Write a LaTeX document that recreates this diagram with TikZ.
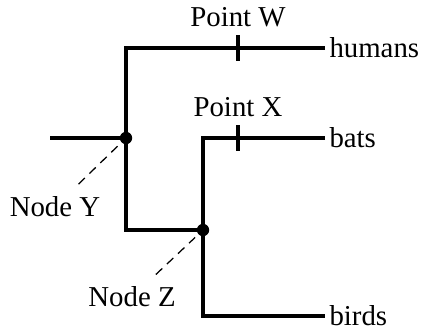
\documentclass[tikz,border=0pt]{standalone}
\usepackage{fontspec}
\setmainfont{Liberation Serif}
\usetikzlibrary{positioning}
\begin{document}
\begin{tikzpicture}[x=0.25mm,y=-0.25mm,
      cabang/.style={line width=2.3pt},
      titik/.style={circle,fill,inner sep=0pt,minimum size=3.1mm},
      takson/.style={anchor=west,inner xsep=3pt,inner ysep=0.5pt,
        font=\fontsize{20.5}{24}\selectfont},
      tanda/.style={inner sep=0pt,minimum height=6.3mm,minimum width=0pt},
      teks/.style={inner sep=1pt,font=\fontsize{20.5}{24}\selectfont},
      putus/.style={line width=0.9pt,dash pattern=on 2.2mm off 1.6mm,
        shorten <=8.2mm,shorten >=2.7mm}]
    \useasboundingbox (0,0) rectangle (421,328);

    % Simpul percabangan
    \coordinate (akar) at (50,138);
    \node[titik] (ny) at (126,138) {};
    \node[titik] (nz) at (203,230) {};
    \coordinate (ya) at (126,48);
    \coordinate (yb) at (126,230);
    \coordinate (za) at (203,138);
    \coordinate (zb) at (203,316);

    % Nama takson di ujung cabang
    \node[takson] (humans) at (325,48) {humans};
    \node[takson] (bats) at (325,138) {bats};
    \node[takson] (birds) at (325,316) {birds};

    % Cabang pohon
    \draw[cabang] (akar) -- (ny.center);
    \draw[cabang] (humans.west) -- (ya) -- (yb) -- (nz.center);
    \draw[cabang] (bats.west) -- (za) -- (zb) -- (birds.west);

    % Tanda titik W dan X
    \node[tanda] (w) at (238,48) {};
    \node[tanda] (x) at (238,138) {};
    \draw[cabang] (w.north) -- (w.south);
    \draw[cabang] (x.north) -- (x.south);
    \node[teks,above=1.7mm of w] (pw) {Point W};
    \node[teks,above=1.6mm of x] (px) {Point X};

    % Label simpul dengan garis putus-putus
    \node[teks] (ly) at (55,207) {Node Y};
    \node[teks] (lz) at (132,297) {Node Z};
    \draw[putus] (ly.center) -- (ny.center);
    \draw[putus] (lz.center) -- (nz.center);
  \end{tikzpicture}
\end{document}
